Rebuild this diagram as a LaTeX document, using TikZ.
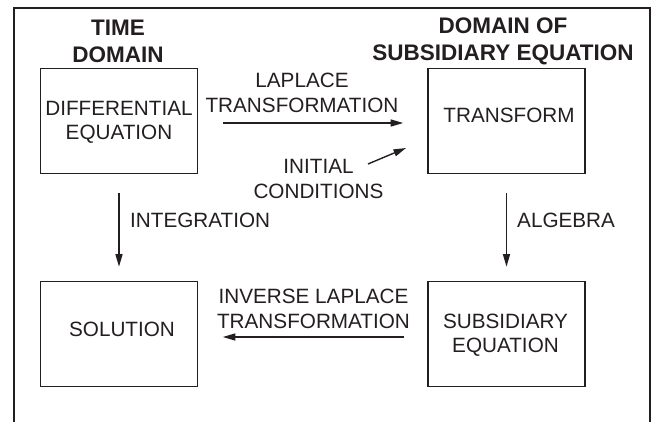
\documentclass[tikz,border=0pt]{standalone}
\usepackage{fontspec}
\setmainfont{Liberation Sans}
\usetikzlibrary{arrows.meta}
\definecolor{ink}{RGB}{35,31,32}
\begin{document}
\begin{tikzpicture}[x=1pt,y=-1pt,
  box/.style={draw=ink,line width=1.6pt,minimum width=157pt,minimum height=105pt,inner sep=0pt},
  txt/.style={text=ink,font=\fontsize{20.7pt}{24.5pt}\selectfont,align=center,inner sep=0pt},
  ttl/.style={text=ink,font=\fontsize{22.5pt}{27pt}\selectfont\bfseries,align=center,inner sep=0pt},
  arr/.style={draw=ink,line width=1.4pt,-{Triangle[length=12.5pt,width=7pt]}}]
\useasboundingbox (0,0) rectangle (653,422);
\draw[ink,line width=1.8pt] (14,422) -- (14,8) -- (650,8) -- (650,422);
% boxes
\node[box] (de) at (119,121) {};
\node[box] (tf) at (506.5,121) {};
\node[box] (so) at (119,334) {};
\node[box] (se) at (506.5,334) {};
% titles
\node[ttl] (tdT) at (118,41) {TIME\\DOMAIN};
\node[ttl] (sdT) at (503,41) {DOMAIN OF\\SUBSIDIARY EQUATION};
% box texts
\node[txt] (deT) at (119,122.5) {DIFFERENTIAL\\EQUATION};
\node[txt] (tfT) at (509,115.5) {TRANSFORM};
\node[txt] (soT) at (122,329.5) {SOLUTION};
\node[txt] (seT) at (505.5,335) {SUBSIDIARY\\EQUATION};
% labels
\node[txt] (lpT) at (302,93) {LAPLACE\\TRANSFORMATION};
\node[txt] (icT) at (318.5,179) {INITIAL\\CONDITIONS};
\node[txt,anchor=west] (inT) at (130,220.5) {INTEGRATION};
\node[txt,anchor=west] (alT) at (517,220.5) {ALGEBRA};
\node[txt] (ilT) at (313.5,309) {INVERSE LAPLACE\\TRANSFORMATION};
% connectors
\draw[arr,shorten <=24.5pt,shorten >=24pt] ([yshift=-2pt]de.east) -- ([yshift=-2pt]tf.west);
\draw[arr,shorten <=18.5pt,shorten >=14pt] (de.south) -- (so.north);
\draw[arr,shorten <=18.5pt,shorten >=14pt] (tf.south) -- (se.north);
\draw[arr,shorten <=23pt,shorten >=24.5pt] ([yshift=-3pt]se.west) -- ([yshift=-3pt]so.east);
\coordinate (icS) at (368,164);
\coordinate (icE) at (406,148);
\draw[arr] (icS) -- (icE);
\end{tikzpicture}
\end{document}
